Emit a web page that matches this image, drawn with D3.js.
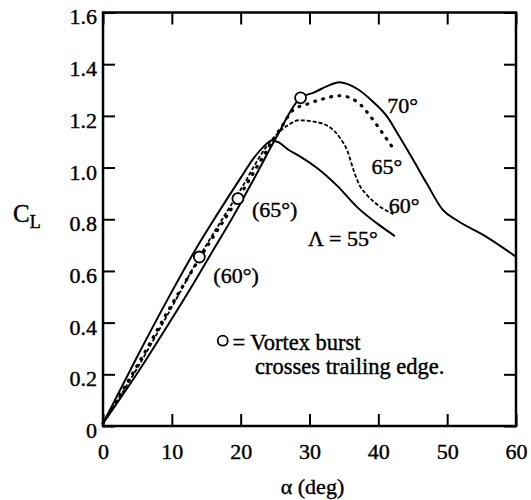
<!DOCTYPE html>
<html>
<head>
<meta charset="utf-8">
<script src="https://cdn.jsdelivr.net/npm/d3@7"></script>
<style>
	body { margin: 0; background: #fff; }
	text { font-family: "Liberation Serif", "Times New Roman", serif; fill: #000; stroke: #000; stroke-width: 0.4; }
	.tick line { stroke: #000; stroke-width: 2; }
	.tick text { font-size: 22px; }
</style>
</head>
<body>
<svg id="chart" width="531" height="500"></svg>
<script>
// [alpha (deg), CL]
const sweep55 = [[0,0.01],[5,0.27],[10,0.52],[13.6,0.69],[16.5,0.815],[20,0.96],[22,1.04],[23.3,1.08],[24.5,1.105],[25.5,1.098],[27,1.068],[28.5,1.045],[31,1.0],[34,0.93],[37,0.845],[40,0.78],[42.4,0.735]];
const sweep60 = [[0,0.01],[5,0.225],[10,0.46],[14,0.654],[20,0.915],[24,1.09],[25.7,1.14],[27,1.166],[28.4,1.183],[30.6,1.178],[33,1.155],[34.5,1.112],[35.5,1.065],[36.4,0.99],[37.3,0.93],[38.3,0.895],[40.2,0.85],[42.2,0.82]];
const sweep65 = [[0,0.01],[5,0.235],[10,0.47],[15,0.69],[19.6,0.88],[24,1.075],[26,1.16],[27.6,1.222],[29.6,1.245],[31.5,1.262],[34.4,1.278],[36.9,1.255],[38.8,1.2],[40.7,1.13],[42,1.08]];
const sweep70 = [[0,0.01],[5,0.205],[10,0.415],[13,0.545],[16,0.68],[19,0.815],[22,0.96],[25.2,1.118],[28.7,1.27],[30.6,1.29],[33,1.32],[34.3,1.33],[36.9,1.305],[39.3,1.253],[41.2,1.2],[43.1,1.118],[45.1,1.028],[47,0.94],[49.4,0.835],[51.4,0.796],[55.7,0.732],[60,0.655]];

// vortex burst crosses trailing edge
const burstPoints = [[14.0,0.654],[19.6,0.88],[28.7,1.27]];
const burstLabels = ["(60°)", "(65°)", ""];

const xTicks = [0,10,20,30,40,50,60];
const yTicks = [0,0.2,0.4,0.6,0.8,1.0,1.2,1.4,1.6];

const margin = {top: 12.5, right: 15, bottom: 74, left: 103};
const width = 531 - margin.left - margin.right;
const height = 500 - margin.top - margin.bottom;

const svg = d3.select("#chart");
const g = svg.append("g").attr("transform", `translate(${margin.left},${margin.top})`);

const x = d3.scaleLinear().domain([0, 60]).range([0, width]);
const y = d3.scaleLinear().domain([0, 1.6]).range([height, 0]);

const yFmt = d => d === 0 ? "0" : d3.format(".1f")(d);

// axes, ticks pointing inwards on all four sides
g.append("g").attr("transform", `translate(0,${height})`)
	.call(d3.axisBottom(x).tickValues(xTicks).tickSize(-12).tickPadding(17.5))
	.call(a => a.select(".domain").remove())
	.selectAll("text").attr("dy", "0.71em");
g.append("g")
	.call(d3.axisTop(x).tickValues(xTicks).tickSize(-12).tickFormat(""))
	.call(a => a.select(".domain").remove());
g.append("g")
	.call(d3.axisLeft(y).tickValues(yTicks).tickSize(-12).tickPadding(6).tickFormat(yFmt))
	.call(a => a.select(".domain").remove())
	.selectAll("text").attr("dy", "0.52em");
g.append("g").attr("transform", `translate(${width},0)`)
	.call(d3.axisRight(y).tickValues(yTicks).tickSize(-12).tickFormat(""))
	.call(a => a.select(".domain").remove());

g.append("rect")
	.attr("width", width).attr("height", height)
	.attr("fill", "none").attr("stroke", "#000").attr("stroke-width", 2.5);

// curves
const line = d3.line()
	.x(d => x(d[0]))
	.y(d => y(d[1]))
	.curve(d3.curveMonotoneX);

const series = [
	{data: sweep55, dash: null, w: 2, cap: "butt"},
	{data: sweep60, dash: "4,2", w: 1.8, cap: "butt"},
	{data: sweep65, dash: "0.8,7.5", w: 3.2, cap: "round"},
	{data: sweep70, dash: null, w: 2, cap: "butt"}
];

g.selectAll("path.curve").data(series).join("path")
	.attr("class", "curve")
	.attr("d", d => line(d.data))
	.attr("fill", "none")
	.attr("stroke", "#000")
	.attr("stroke-width", d => d.w)
	.attr("stroke-linecap", d => d.cap)
	.attr("stroke-dasharray", d => d.dash);

g.selectAll("circle.burst").data(burstPoints).join("circle")
	.attr("class", "burst")
	.attr("cx", d => x(d[0])).attr("cy", d => y(d[1])).attr("r", 5.5)
	.attr("fill", "#fff").attr("stroke", "#000").attr("stroke-width", 1.8);

const burstOffsets = [26, 18, 0];
g.selectAll("text.burst").data(burstPoints).join("text")
	.attr("class", "burst")
	.attr("x", d => x(d[0]) + 14).attr("y", (d, i) => y(d[1]) + burstOffsets[i])
	.attr("font-size", 22)
	.text((d, i) => burstLabels[i]);

// curve labels
const curveLabels = [
	{t: "70°", a: 41.3, c: 1.21},
	{t: "65°", a: 39, c: 0.975},
	{t: "60°", a: 41.5, c: 0.825},
	{t: "Λ = 55°", a: 29.8, c: 0.695}
];
g.selectAll("text.clab").data(curveLabels).join("text")
	.attr("class", "clab")
	.attr("x", d => x(d.a)).attr("y", d => y(d.c))
	.attr("font-size", 22)
	.text(d => d.t);

// legend
g.append("circle")
	.attr("cx", x(17.4)).attr("cy", y(0.33)).attr("r", 5)
	.attr("fill", "#fff").attr("stroke", "#000").attr("stroke-width", 1.8);
g.append("text")
	.attr("x", x(18.8)).attr("y", y(0.33) + 9)
	.attr("font-size", 22.5)
	.text("= Vortex burst");
g.append("text")
	.attr("x", x(22.1)).attr("y", y(0.235) + 9)
	.attr("font-size", 22.5)
	.text("crosses trailing edge.");

// axis titles
svg.append("text")
	.attr("x", margin.left + x(30) + 3).attr("y", 494)
	.attr("text-anchor", "middle")
	.attr("font-size", 22)
	.text("α (deg)");
const cl = svg.append("text").attr("x", 13).attr("y", 222).attr("font-size", 25);
cl.append("tspan").text("C");
cl.append("tspan").attr("dy", 6).attr("font-size", 18).text("L");
</script>
</body>
</html>
